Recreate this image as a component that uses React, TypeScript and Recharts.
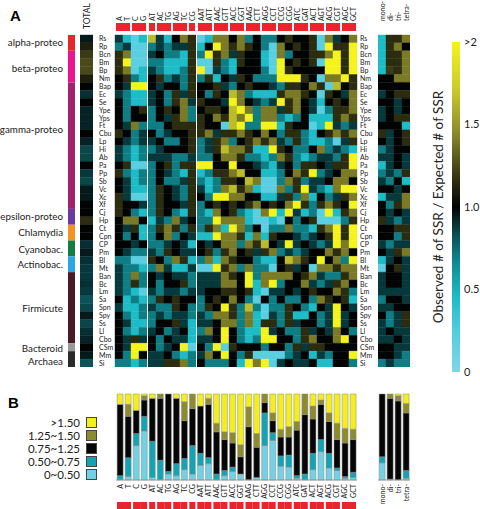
import React from 'react';
import { BarChart, Bar, XAxis, YAxis, Cell, Legend, Label } from 'recharts';

const FONT = 'Lato, "Open Sans", sans-serif';
const RED = '#e8242c';

const SPECIES = [
  'Rs', 'Rp', 'Bcn', 'Bm', 'Bp', 'Nm', 'Bap', 'Ec', 'Se', 'Ype', 'Yps', 'Ft', 'Cbu', 'Lp',
  'Hi', 'Ab', 'Pa', 'Pp', 'Sb', 'Vc', 'Xc', 'Xf', 'Cj', 'Hp', 'Ct', 'Cpn', 'CP', 'Pm',
  'Bl', 'Mt', 'Ban', 'Bc', 'Lm', 'Sa', 'Spn', 'Spy', 'Ss', 'Ll', 'Cbo', 'CSm', 'Mm', 'Si',
];

const COLS = [
  'A', 'T', 'C', 'G', 'AT', 'AC', 'TG', 'AG', 'TC', 'CG', 'AAT', 'ATT', 'AAC', 'GTT', 'ACC',
  'GGT', 'AAG', 'CTT', 'AGG', 'CCT', 'CCG', 'CGG', 'ATC', 'GAT', 'ACT', 'AGT', 'ACG', 'CGT', 'AGC', 'GCT',
];
// which red bar each column sits under
const PAIR = [0, 0, 1, 1, 2, 3, 3, 4, 4, 5, 6, 6, 7, 7, 8, 8, 9, 9, 10, 10, 11, 11, 12, 12, 13, 13, 14, 14, 15, 15];
const SUMMARY_COLS = ['mono-', 'di-', 'tri-', 'tetra-'];

const GROUPS = ['alpha-proteo', 'beta-proteo', 'gamma-proteo', 'epsilon-proteo', 'Chlamydia', 'Cyanobac.', 'Actinobac.', 'Firmicute', 'Bacteroid', 'Archaea'];
const GROUP_SIZES = [2, 4, 16, 2, 2, 2, 2, 9, 1, 2];
const GROUP_COLORS = ['#e8262a', '#ea168f', '#a3226e', '#6a3a9e', '#f39220', '#167a45', '#2aa8e0', '#4a1a26', '#9a9a9a', '#2a2a2a'];
const GROUP_LABEL_ROWS = [0.95, 4.2, 11.9, 22.9, 25, 27.1, 29, 34.6, 39.6, 41.3];

// observed / expected ratio, one row per species, columns as COLS
const HEAT: number[][] = [
  [.88, .45, .2, .45, 1.65, .88, .45, 1, 1.4, 1.15, .2, .45, 1.4, 1.4, 1, 1.4, .7, 1, .7, .7, 1, 1.15, 1, 1, 1.15, .2, 1.4, .88, 1, 1.4],
  [.7, .88, .2, .2, .7, .88, .7, .88, .88, 1.15, .45, 1, 2.1, 1.4, 1.15, 1.4, 1.15, 1, .7, .2, 1.4, 1, 1.15, 1, 1.15, .2, 2.1, 1.15, 1.15, 2.1],
  [1.15, 1.4, .2, .2, .88, 1, .7, .7, .45, 1.15, .7, 2.1, 1.15, 1.4, .88, 1.15, 1, 1, .45, .2, 1.4, .7, 1, 1, 1.15, 1.15, 1.4, 2.1, 1.15, 2.1],
  [1.15, 2.1, .2, .2, .7, .7, .45, .45, .45, 1.15, .2, .2, 1.15, .7, .45, 1.15, 1, 1, .45, .2, 2.1, 1, 1.15, 1, 1.15, .2, 2.1, 2.1, 1.15, 2.1],
  [1.15, 1.4, .2, .45, .88, .7, .45, .45, .7, 1.15, 2.1, .2, .88, .7, .45, 1, 1, 1, .7, .2, 2.1, 1.15, 1, 1, 1, 1, 2.1, 2.1, 1.15, 2.1],
  [1, 1.15, .7, .45, 1, 1.15, .7, .88, .7, 1.15, .7, 1.15, .45, 1, .88, 1.15, 1, .7, .7, .7, 2.1, 2.1, 2.1, 1.15, 1, .2, 1.4, 1.4, 2.1, 1.15],
  [1, .88, 2.1, 2.1, 1, .88, 1, 1, .7, 1.15, 1, 1, 1.15, .88, .7, 1, 1.15, 1, 1, .88, .7, 1.15, 1.15, 1, 1.4, 1.15, .2, 1.65, 1, 1.15],
  [.88, .7, .45, .45, .88, 1, .7, 1.15, .88, 1.15, 1, .7, 1.15, 1, 1.65, 1.4, .7, .45, .45, .45, 1.15, 1.4, 1.4, 1.15, 1, .2, 1.15, 1, .88, 1.4],
  [1, .7, .45, .45, .88, 1, .7, 1.15, 1.4, .88, 1.15, 1, 1, .88, 2.1, 1.4, 1, .88, .7, .88, 2.1, 1.15, 1.4, 1, .88, .45, 1, 1.15, 1, 1.4],
  [1, .7, 1, 1.15, .7, 1, 1.15, 1, 1.4, .7, 1, 1.15, 1.15, 1, 1.65, 2.1, 1.4, .7, 1.4, 1.4, .88, 1.15, 1.4, 1, .88, .2, .7, 1.15, 1.15, 1.4],
  [1, .7, 1, 1, .7, 1, .88, 1.15, 1.4, .7, 1.15, 1, 1.4, 1.15, 1.65, 1.4, 2.1, .7, 1.4, 1.4, .7, .45, .7, 1, .45, .45, .45, 1.15, 1.4, 1.15],
  [1, .88, 1.4, .7, .7, .7, 1, 1.15, 1.15, 1.15, 1.15, 1, 1, .2, 1.65, 2.1, .7, .7, 2.1, 2.1, .45, 1.15, 1, 1, .2, .45, 2.1, .88, .7, .88],
  [1.15, 1, .7, .88, 1, .7, .88, 1, 1, 1.15, 1.15, 1.4, .88, 1.15, 1.15, 1.4, 1.15, 1, 1.4, 1, .7, 1.15, 1.15, .7, .45, 1, 1.15, 1.4, 1.15, 1.4],
  [1, .88, .7, .88, .88, 1, .7, .7, 1, 1.15, .7, .88, 1.15, 1.4, .7, 1, 1.15, 1.4, 1.15, 1.4, .88, .7, 1.15, .7, .45, .45, .7, .2, .88, 1.15],
  [.88, .7, .45, .7, .7, .88, 1, 1, 1, 1.15, .7, .88, 1.15, 1.65, 1.4, 1.4, 1.15, .45, .45, 2.1, 1.15, 1, .7, .7, 1, 1.4, .7, .88, .7, .45],
  [.88, .7, .45, .7, .88, .88, .88, .7, .7, .88, .7, .7, 1, 1.4, 1.4, 1.15, .7, .7, .45, .7, 1.4, 1.15, .7, .45, .7, .88, .88, .7, 1.15, 2.1],
  [1, 1.15, .2, .2, .7, 1, 1.15, .7, 1.15, 1.15, 2.1, 2.1, 1, 1, 2.1, 1, 1, .88, .7, .45, .88, 1, .7, 1.15, 1.15, 1, .88, 1.15, 1.15, 2.1],
  [1.15, .7, .45, .7, .7, 1, .88, .7, .45, 1.15, .45, .7, 1.15, 1.15, 1.4, 1.65, 1, 1, .45, .45, .7, 1, 1.4, 1.15, 2.1, .7, .88, 1, 1.4, 1.4],
  [1, .88, .45, .7, .7, 1, .7, .7, .88, 1.15, .7, .45, .7, 1.15, 1.15, 1, 1.65, 1.4, .2, .2, .7, 1.4, 1.15, .7, .88, .88, 1, 1.4, 1.4, 1],
  [1, .88, .45, .45, .7, 1.15, 1, .88, .7, 1.15, .88, .45, .7, 1.4, 1.65, 1.15, 1.4, .45, .2, .2, 1.4, .7, 1.15, 2.1, .88, .7, .45, 1.4, 2.1, 2.1],
  [1.15, .88, .2, .2, .7, 1.15, 1, .88, .7, 1.15, 1, .7, 2.1, 2.1, 1.4, 1.4, 1, 1, .45, .45, .88, 1.15, .7, 1.4, .45, 1, .7, .88, 1.15, 1.4],
  [1.15, 1, 1, .88, .7, 1.15, 1, 1, .88, 1.15, .7, 1, 1.15, 1, 1.15, 1, 1.15, 1.4, 1, 1.15, 1, 1.4, 2.1, 1.15, .7, 1.15, 1.4, 1.15, 1, 2.1],
  [1.15, 1, .7, .45, .7, 1.15, 1, .7, .45, 1.15, .7, .45, 1.4, 1, 1.15, .7, .45, .2, 1.4, 2.1, .45, 2.1, .88, .45, .7, .2, 2.1, .45, 1.15, 1.4],
  [1, 1.4, 1.4, 1, .45, .88, .7, 1.4, .88, 1, .7, .7, 2.1, 1.4, 1.4, 1.4, .45, .2, .2, .45, .2, 1, .7, 1, 1.15, .2, .2, .2, .7, 1.15],
  [1, .88, 1.15, .45, .7, 1.15, 1.4, 1.15, .7, 1.15, .7, 1.15, 1.4, .45, 2.1, 1.4, .7, 1, .2, .7, .7, 1.4, .7, .7, .45, 1.15, 1.4, 2.1, 1.15, 2.1],
  [1, .7, 1, .45, .7, 1, 1.4, .7, 1, .88, .45, .45, 2.1, 1.4, 1.4, 1.15, .45, 1.4, .45, 1.15, 1, 1, .88, .7, .88, 1, 1.15, 2.1, 1.15, 2.1],
  [1, 1, .88, 1, .7, .7, .88, 1, .88, .45, 1, .88, 1, 1.4, 1.4, .7, 1.4, 1.15, 1.65, 1, .88, 2.1, .88, 1, .88, .7, .88, 2.1, 1.4, 2.1],
  [1, .88, .7, .7, .88, .7, 1.15, 1, .88, .88, 1, 1.15, .7, 1.15, 1.4, 1, 1.15, .88, 1.15, 1.4, .7, .88, .7, .88, 1, 1, 1.4, 1.15, 1.4, 1],
  [.7, .7, .2, .2, 1.15, 1, .7, 1.4, 1.15, .45, .7, 1.4, .45, 1.4, 1.15, 1, 1, .7, .45, .45, 1, 1.65, 1.4, 1.15, 1, 2.1, 1, 1.4, .7, 2.1],
  [.88, .7, .7, .45, .7, 1.4, .88, .45, .45, .88, .2, .2, 2.1, 1.15, 1.4, .7, 1.4, .7, .7, .2, 1, 1.15, .88, 1, .2, 1.4, 1.4, 1.15, 1.4, 1.4],
  [.88, .7, 1.4, .7, 1, .88, 1, .88, .88, .7, .88, .88, .88, 1.4, 1.15, 1, 2.1, .7, 1.4, 1.4, 1.4, 1.4, 1, 1.15, 1.4, .88, .7, .7, 1.15, 1.4],
  [.88, .7, 1.15, .7, 1, .7, 1, 1, 1.15, .7, .88, .88, .88, 1.4, 1.4, 1, 2.1, .45, 1.4, 2.1, .7, 1, 1, 1.4, .88, .7, .88, 1.15, 1.4, 1],
  [.88, .7, .45, .2, .88, .7, .88, .88, .7, .88, .88, 1, 1, 1.15, 1.15, 1, 1.15, .45, .2, .88, .88, 1, .88, 1, 1.15, 1, 1, 1.4, 1.15, .7],
  [1, .45, .7, .45, .7, 1.15, 1, 1.15, 1, 1, .7, 1, 1.15, 1, 1.4, 1, .7, .2, 1, .7, 1, .7, .7, 1, .7, 1.4, 1.15, 1, 1.15, .45],
  [.88, .45, .45, .7, .88, .7, .7, 1.15, 1, .7, .7, 1.15, 1, 2.1, 1.15, .7, 1.65, .7, .2, .7, .7, 1.15, 1, .7, .45, 1, .88, 2.1, 1, .88],
  [1, .7, .45, .7, .7, .88, .7, .88, .88, .7, .88, .7, 1.4, 1.4, 1.15, .7, 1.4, .45, .2, .88, .7, 1.15, .45, .45, 1, .7, .88, 2.1, .88, 1],
  [1, .88, .45, .45, .7, 1, 1, 1.15, .88, .45, .88, .88, 1, 1.4, 1.4, .7, 1.4, .45, 1.15, 1.15, .7, 1.15, .88, 1, 1, .7, .88, 2.1, .88, 1],
  [1, .7, .45, .7, .88, 1, .7, .88, 1, .45, .7, 1.4, 1, 2.1, 1, .7, .45, .45, 2.1, .88, 1, .7, .7, 1.15, .88, 1, .88, 1.4, 1, .7],
  [1, .88, 1.15, .88, 1, .7, 1, .88, .88, .45, .88, .88, 1, 2.1, 1, .7, .45, .7, 2.1, 2.1, 1, 1, .7, 1.15, 1.4, 1, 1, 1.4, 2.1, 1],
  [1, .88, 2.1, 2.1, 1, .7, .88, 1, 2.1, .2, 1, .7, 2.1, .2, 1.15, 1, 1, 1, .7, 1, 1, .7, 1.15, .88, 1.15, 1.15, 1, 1, 1, 1],
  [1, .7, 2.1, 1, .88, .88, 1, .7, .45, .7, .88, 1.4, 1, 2.1, 1, .7, 1.15, .2, .2, .2, .2, .7, .88, 1, .45, .88, .7, 1, 1, 2.1],
  [.7, .7, .45, .7, .88, .88, 1.15, 1.15, 1.4, .7, 1, .7, .7, .7, 1, .45, 2.1, 1.4, 2.1, .2, .88, 1, .88, .88, 1, .45, .45, 1, 1, .7],
];

// mono-, di-, tri-, tetra- per species
const SUMMARY: number[][] = [
  [.45, 1.15, 1.15, 1.4], [.45, 1.15, 1.4, 1], [.45, 1.15, 1.15, 1.4], [.45, 1.15, 1.15, 1.4],
  [.45, 1.2, 1.15, 1.4], [1, 1, 1.4, 1.4], [1, 1, 1, 1], [.88, 1, 1.15, 1.15],
  [1, 1, .88, 1], [.88, 1, .88, 1], [.88, 1, 1.15, 1.15], [1, 1, 1, .45],
  [1.15, .88, 1, 1.15], [1, .88, 1, 1.15], [.7, .88, 1, 1], [.88, .88, 1, .88],
  [.45, .88, 1, .88], [.7, .88, .7, 1.15], [.88, .7, 1, .45], [1, 1, .88, 1],
  [.45, .88, .88, 1.4], [1, .7, 1.15, 1.4], [1, .88, 1, .88], [1.15, .88, .7, .88],
  [1, 1, 1.15, 1.15], [1, 1, .7, 1.15], [.88, .7, .88, .88], [1, .88, 1.15, 1.4],
  [.45, .88, 1, .88], [.2, 1, 1.15, .88], [.88, 1, 1, .88], [.88, 1, 1, .88],
  [.88, .88, .88, .88], [.7, 1, 1, .88], [.88, .88, 1, 1], [1, .7, .88, 1.15],
  [.88, .7, .88, 1.15], [.88, 1, .88, .88], [.88, .88, 1, .88], [1, 1, .88, .88],
  [1, 1, .88, .7], [.7, .88, .7, .7],
];

const TOTAL = [
  .95, 1.1, 1.2, 1.25, 1.25, 1.1, 1, .9, 1, .93, .93, .93, 1, .93, .85, .85, 1, .88, .85, .95, .95,
  1, 1, 1.15, 1, 1, .9, .95, .9, .88, .88, .9, .88, .82, .85, .95, .85, .9, .93, 1, .95, .82,
];

// panel B: share of species in each ratio bin, per column
const B_LOW = [0, .04, .40, .57, .03, 0, .07, .05, .12, .07, .17, .19, 0, .05, .10, .07, 0, .03, .40, .46, .16, .15, .02, 0, .12, .33, .14, .11, .02, .03];
const B_MID = [.05, .22, .14, .17, .42, .23, .03, .14, .13, .33, .14, .07, .07, .06, .05, 0, 0, 0, .38, .09, .12, .14, .03, .07, .19, .14, .17, .03, .02, .06];
const B_ONE = [.83, .48, .27, .19, .50, .72, .90, .76, .44, .43, .55, .62, .49, .36, .28, .20, .62, .35, .12, .14, .22, .21, .53, .69, .40, .41, .37, .33, .39, .38];
const B_HIGH = [0, .14, 0, .05, 0, .05, 0, 0, .22, .17, 0, .07, .10, .09, .12, .14, .23, .16, .10, .09, .09, .12, .10, .24, .15, .05, .10, .19, .17, .12];
const B_TOP = [.12, .12, .19, .02, .05, 0, 0, .05, .09, 0, .14, .05, .34, .44, .45, .59, .15, .46, 0, .22, .41, .38, .32, 0, .14, .07, .22, .34, .40, .41];

const S_LOW = [.20, 0, 0, .02];
const S_MID = [.07, .01, 0, .09];
const S_ONE = [.73, .94, .92, .67];
const S_HIGH = [0, .05, .06, .11];
const S_TOP = [0, 0, .02, .11];

const BINS = [
  { key: 'low', name: '0~0.50', color: '#74d0e3' },
  { key: 'mid', name: '0.50~0.75', color: '#13a3b3' },
  { key: 'one', name: '0.75~1.25', color: '#060606' },
  { key: 'high', name: '1.25~1.50', color: '#8c8c2e' },
  { key: 'top', name: '>1.50', color: '#f2ee22' },
];

const CB_TICKS = [0, 0.5, 1, 1.5, 2];
const STOPS: [number, string][] = [
  [0, '#80d6e8'], [0.25, '#52cde0'], [0.45, '#1dbcc6'], [0.65, '#0f8f96'], [0.82, '#0a5458'],
  [1.0, '#020404'], [1.2, '#3a3a14'], [1.45, '#8a8a2c'], [1.7, '#c8c82a'], [2.0, '#f4f41c'],
];

const hex = (c: string) => [1, 3, 5].map((i) => parseInt(c.slice(i, i + 2), 16));
function heatColor(v: number) {
  if (v <= STOPS[0][0]) return STOPS[0][1];
  for (let i = 1; i < STOPS.length; i++) {
    if (v <= STOPS[i][0]) {
      const t = (v - STOPS[i - 1][0]) / (STOPS[i][0] - STOPS[i - 1][0]);
      const a = hex(STOPS[i - 1][1]);
      const b = hex(STOPS[i][1]);
      return `rgb(${a.map((x, k) => Math.round(x + (b[k] - x) * t)).join(',')})`;
    }
  }
  return STOPS[STOPS.length - 1][1];
}

const ROW_TICKS = SPECIES.map((_, i) => i + 0.5);

const ColTick = (props: any) => {
  const { x, payload, index, offset, redY, textY, size, up, cell } = props;
  const g = offset + index;
  let bar = null;
  if (redY != null) {
    const l = g === 0 || PAIR[g - 1] !== PAIR[g] ? 1 : 0;
    const r = g === PAIR.length - 1 || PAIR[g + 1] !== PAIR[g] ? 1 : 0;
    bar = <rect x={x - cell / 2 + l} y={redY} width={cell - l - r} height={8} fill={RED} />;
  }
  return (
    <g>
      <text
        transform={`translate(${x + size * 0.36},${textY}) rotate(-90)`}
        textAnchor={up ? 'start' : 'end'}
        fontSize={size}
        fontFamily={FONT}
        fill="#222"
      >
        {payload.value}
      </text>
      {bar}
    </g>
  );
};

const Heat = ({ cols, rows, left, width, offset = 0, redY = null, textY = 21, size = 7, side = null, labelX = 0 }: any) => {
  const data = cols.map((c: string) => {
    const o: any = { name: c };
    SPECIES.forEach((_, i) => (o['r' + i] = 1));
    return o;
  });
  const rowTick = (p: any) => (
    <text x={labelX} y={p.y + 2.5} fontSize={7} fontFamily={FONT} fill="#222" style={{ fill: '#222' }} textAnchor="start">
      {SPECIES[Math.floor(p.payload.value)]}
    </text>
  );
  return (
    <div style={{ position: 'absolute', left, top: 0 }}>
      <BarChart width={width} height={367} data={data} margin={{ top: 0, right: 0, left: 0, bottom: 0 }} barCategoryGap={0} barGap={0}>
        <XAxis
          dataKey="name"
          orientation="top"
          height={35}
          axisLine={false}
          tickLine={false}
          interval={0}
          tick={(p: any) => <ColTick {...p} offset={offset} redY={redY} textY={textY} size={size} up cell={8} />}
        />
        {side ? (
          <YAxis
            type="number"
            domain={[0, 42]}
            reversed
            orientation={side}
            width={side === 'left' ? 18 : 20}
            ticks={ROW_TICKS}
            interval={0}
            axisLine={false}
            tickLine={false}
            tick={rowTick}
          />
        ) : (
          <YAxis type="number" domain={[0, 42]} reversed hide />
        )}
        {SPECIES.map((s, i) => (
          <Bar key={s} dataKey={'r' + i} stackId="h" isAnimationActive={false}>
            {cols.map((c: string, j: number) => {
              const f = heatColor(rows[i][j]);
              return <Cell key={c} fill={f} stroke={f} strokeWidth={0.4} />;
            })}
          </Bar>
        ))}
      </BarChart>
    </div>
  );
};

const Groups = () => {
  const row: any = { name: 'g' };
  GROUP_SIZES.forEach((n, i) => (row['g' + i] = n));
  return (
    <div style={{ position: 'absolute', left: 0, top: 0 }}>
      <BarChart width={75} height={367} data={[row]} margin={{ top: 35, right: 0, left: 0, bottom: 0 }} barCategoryGap={0}>
        <XAxis dataKey="name" hide />
        <YAxis
          type="number"
          domain={[0, 42]}
          reversed
          width={68}
          ticks={GROUP_LABEL_ROWS}
          interval={0}
          axisLine={false}
          tickLine={false}
          tick={(p: any) => (
            <text x={63} y={p.y + 3.5} fontSize={9.8} fontFamily={FONT} fill="#222" style={{ fill: '#222' }} textAnchor="end">
              {GROUPS[p.index]}
            </text>
          )}
        />
        {GROUP_SIZES.map((_, i) => (
          <Bar key={i} dataKey={'g' + i} stackId="g" fill={GROUP_COLORS[i]} isAnimationActive={false} />
        ))}
      </BarChart>
    </div>
  );
};

const ColorBar = () => (
  <div style={{ position: 'absolute', left: 405, top: 30 }}>
    <BarChart width={75} height={355} data={[{ name: 'cb', v: 2 }]} margin={{ top: 12, right: 0, left: 0, bottom: 13 }} barCategoryGap={0}>
      <defs>
        <linearGradient id="cbar" x1="0" y1="1" x2="0" y2="0">
          {STOPS.map(([v, c]) => (
            <stop key={v} offset={v / 2} stopColor={c} />
          ))}
        </linearGradient>
      </defs>
      <XAxis dataKey="name" hide />
      <YAxis yAxisId="l" width={47} domain={[0, 2]} tick={false} axisLine={false} tickLine={false}>
        <Label
          value="Observed # of SSR / Expected # of SSR"
          angle={-90}
          position="center"
          dx={10}
          style={{ fontSize: 13.5, fill: '#222', fontFamily: FONT }}
        />
      </YAxis>
      <YAxis
        yAxisId="r"
        orientation="right"
        width={20}
        domain={[0, 2]}
        ticks={CB_TICKS}
        interval={0}
        axisLine={false}
        tickLine={false}
        tickSize={0}
        tickMargin={4}
        tickFormatter={(v: number) => (v === 2 ? '>2' : v === 0 ? '0' : v.toFixed(1))}
        tick={{ fontSize: 11, fill: '#222', fontFamily: FONT }}
      />
      <Bar yAxisId="r" dataKey="v" fill="url(#cbar)" isAnimationActive={false} />
    </BarChart>
  </div>
);

const BinLegend = () => (
  <div style={{ fontFamily: FONT, fontSize: 11.5, color: '#222' }}>
    {[...BINS].reverse().map((b) => (
      <div key={b.key} style={{ display: 'flex', alignItems: 'center', justifyContent: 'flex-end', height: 13 }}>
        <span style={{ marginRight: 6 }}>{b.name}</span>
        <span style={{ width: 9, height: 9, background: b.color, border: '1px solid #444' }} />
      </div>
    ))}
  </div>
);

const mainBins = COLS.map((c, i) => ({ name: c, low: B_LOW[i], mid: B_MID[i], one: B_ONE[i], high: B_HIGH[i], top: B_TOP[i] }));
const summaryBins = SUMMARY_COLS.map((c, i) => ({ name: c, low: S_LOW[i], mid: S_MID[i], one: S_ONE[i], high: S_HIGH[i], top: S_TOP[i] }));

const StackPanel = ({ data, left, width, margin, red, legend }: any) => (
  <div style={{ position: 'absolute', left, top: 380 }}>
    <BarChart width={width} height={129} data={data} margin={margin} barCategoryGap="14%">
      <XAxis
        dataKey="name"
        height={29}
        axisLine={{ stroke: '#999' }}
        tickLine={false}
        interval={0}
        tick={(p: any) => <ColTick {...p} offset={0} redY={red ? 122 : null} textY={104} size={7} up={false} cell={8.03} />}
      />
      <YAxis type="number" domain={[0, 1]} hide />
      {BINS.map((b) => (
        <Bar key={b.key} dataKey={b.key} name={b.name} stackId="b" fill={b.color} stroke="#8a8a8a" strokeWidth={0.5} isAnimationActive={false} />
      ))}
      {legend && (
        <Legend
          content={<BinLegend />}
          layout="horizontal"
          verticalAlign="middle"
          wrapperStyle={{ left: 0, top: 36, width: 97 }}
        />
      )}
    </BarChart>
  </div>
);

export default function App() {
  const mono = HEAT.map((r) => r.slice(0, 4));
  const di = HEAT.map((r) => r.slice(4, 10));
  const tri = HEAT.map((r) => r.slice(10, 30));
  return (
    <div style={{ position: 'absolute', left: 0, top: 0, width: 480, height: 509, background: '#fff', fontFamily: FONT, overflow: 'hidden' }}>
      <div style={{ position: 'absolute', left: 10, top: 7, font: 'bold 15px "Liberation Sans", Arial, sans-serif' }}>A</div>
      <div style={{ position: 'absolute', left: 8, top: 394, font: 'bold 15px "Liberation Sans", Arial, sans-serif' }}>B</div>
      <Groups />
      <Heat cols={['TOTAL']} rows={TOTAL.map((v) => [v])} left={80} width={13} textY={29} size={8.5} />
      <Heat cols={COLS.slice(0, 4)} rows={mono} left={97} width={50} offset={0} redY={23} side="left" labelX={2} />
      <Heat cols={COLS.slice(4, 10)} rows={di} left={148} width={48} offset={4} redY={23} />
      <Heat cols={COLS.slice(10, 30)} rows={tri} left={197} width={180} offset={10} redY={23} side="right" labelX={163} />
      <Heat cols={SUMMARY_COLS} rows={SUMMARY} left={378} width={32} textY={21} size={7} />
      <ColorBar />
      <StackPanel data={mainBins} left={0} width={365} margin={{ top: 14, right: 8, left: 116, bottom: 0 }} red legend />
      <StackPanel data={summaryBins} left={372} width={44} margin={{ top: 14, right: 6, left: 6, bottom: 0 }} />
    </div>
  );
}
